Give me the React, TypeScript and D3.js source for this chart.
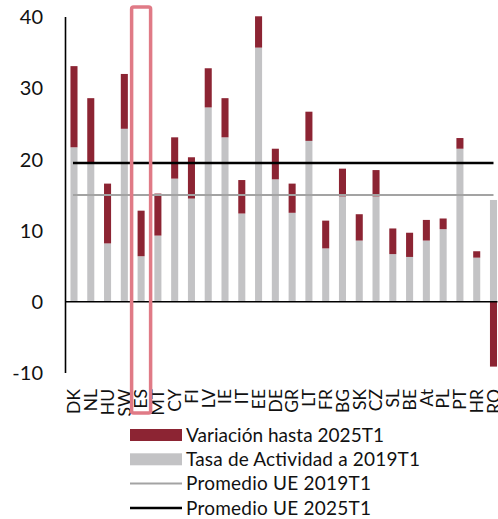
import React, { useEffect, useRef } from "react";
import * as d3 from "d3";

const countries = ["DK", "NL", "HU", "SW", "ES", "MT", "CY", "FI", "LV", "IE", "IT", "EE", "DE", "GR", "LT", "FR", "BG", "SK", "CZ", "SL", "BE", "At", "PL", "PT", "HR", "RO"];
const rate2019 = [21.7, 19.4, 8.2, 24.3, 6.4, 9.3, 17.3, 14.5, 27.3, 23.1, 12.4, 35.7, 17.2, 12.5, 22.6, 7.5, 14.8, 8.6, 14.8, 6.7, 6.3, 8.6, 10.2, 21.5, 6.2, 14.3];
const variation = [11.4, 9.2, 8.4, 7.7, 6.4, 5.9, 5.8, 5.8, 5.5, 5.5, 4.7, 4.4, 4.3, 4.1, 4.1, 3.9, 3.9, 3.7, 3.7, 3.6, 3.4, 2.9, 1.5, 1.5, 0.9, -9.1];
const avg2019 = 15.0;
const avg2025 = 19.5;
const yTicks = [-10, 0, 10, 20, 30, 40];
const legendItems = [
  { label: "Variación hasta 2025T1", kind: "red", len: 198 },
  { label: "Tasa de Actividad a 2019T1", kind: "gray", len: 234 },
  { label: "Promedio UE 2019T1", kind: "grayLine", len: 185 },
  { label: "Promedio UE 2025T1", kind: "blackLine", len: 185 },
];

const RED = "#8c2433";
const GRAY = "#c3c3c5";
const FONT = "Lato, 'Open Sans', sans-serif";

const Chart = () => {
  const svgRef = useRef<SVGSVGElement>(null);
  const width = 498;
  const height = 519;

  useEffect(() => {
    const svg = d3.select(svgRef.current);
    svg.selectAll("*").remove();

    const x = d3
      .scaleBand()
      .domain(countries)
      .range([65.6, 65.6 + 26 * 16.78])
      .paddingInner(0.58)
      .paddingOuter(0.29);

    const y = d3.scaleLinear().domain([-10, 40]).range([373, 17]);

    // gray bars: 2019 rate
    svg
      .append("g")
      .attr("fill", GRAY)
      .selectAll("rect")
      .data(countries)
      .join("rect")
      .attr("x", (d) => x(d)!)
      .attr("width", x.bandwidth())
      .attr("y", (d, i) => y(rate2019[i]))
      .attr("height", (d, i) => y(0) - y(rate2019[i]));

    // red bars: variation (stacked on top if positive, below zero if negative)
    svg
      .append("g")
      .attr("fill", RED)
      .selectAll("rect")
      .data(countries)
      .join("rect")
      .attr("x", (d) => x(d)!)
      .attr("width", x.bandwidth())
      .attr("y", (d, i) =>
        variation[i] >= 0 ? y(rate2019[i] + variation[i]) : y(0)
      )
      .attr("height", (d, i) => Math.abs(y(0) - y(variation[i])));

    const xStart = x(countries[0])! + x.bandwidth() / 2 - 1;
    const xEnd = x(countries[countries.length - 1])! + x.bandwidth() / 2;

    // zero line
    svg
      .append("line")
      .attr("x1", 65)
      .attr("x2", xEnd + 4)
      .attr("y1", y(0))
      .attr("y2", y(0))
      .attr("stroke", "#000")
      .attr("stroke-width", 1.6);

    // EU averages
    svg
      .append("line")
      .attr("x1", xStart)
      .attr("x2", xEnd)
      .attr("y1", y(avg2019))
      .attr("y2", y(avg2019))
      .attr("stroke", "#a3a3a3")
      .attr("stroke-width", 2);
    svg
      .append("line")
      .attr("x1", xStart)
      .attr("x2", xEnd)
      .attr("y1", y(avg2025))
      .attr("y2", y(avg2025))
      .attr("stroke", "#000")
      .attr("stroke-width", 2.5);

    // y axis
    svg
      .append("line")
      .attr("x1", 65.5)
      .attr("x2", 65.5)
      .attr("y1", y(40))
      .attr("y2", y(-10))
      .attr("stroke", "#000")
      .attr("stroke-width", 1.6);

    svg
      .append("g")
      .selectAll("text")
      .data(yTicks)
      .join("text")
      .attr("x", 43)
      .attr("y", (d) => y(d))
      .attr("dy", "0.36em")
      .attr("text-anchor", "end")
      .attr("font-family", FONT)
      .attr("font-size", 20)
      .attr("fill", "#111")
      .text((d) => d);

    // category labels
    svg
      .append("g")
      .selectAll("text")
      .data(countries)
      .join("text")
      .attr(
        "transform",
        (d) => `translate(${x(d)! + x.bandwidth() / 2},389) rotate(-90)`
      )
      .attr("dy", "0.36em")
      .attr("text-anchor", "end")
      .attr("font-family", FONT)
      .attr("font-size", 17.5)
      .attr("fill", "#111")
      .text((d) => d);

    // highlight around ES
    const es = x("ES")!;
    svg
      .append("rect")
      .attr("x", es + x.bandwidth() / 2 - 9.5)
      .attr("y", 7)
      .attr("width", 19)
      .attr("height", 406)
      .attr("rx", 2)
      .attr("fill", "none")
      .attr("stroke", "#e07a86")
      .attr("stroke-width", 3.5);

    // legend
    const lg = svg
      .append("g")
      .selectAll("g")
      .data(legendItems)
      .join("g")
      .attr("transform", (d, i) => `translate(130,${435 + i * 24.3})`);

    lg.filter((d) => d.kind === "red" || d.kind === "gray")
      .append("rect")
      .attr("x", 0)
      .attr("y", -6)
      .attr("width", 52)
      .attr("height", 12)
      .attr("fill", (d) => (d.kind === "red" ? RED : GRAY));

    lg.filter((d) => d.kind === "grayLine" || d.kind === "blackLine")
      .append("line")
      .attr("x1", 0)
      .attr("x2", 52)
      .attr("y1", 0)
      .attr("y2", 0)
      .attr("stroke", (d) => (d.kind === "grayLine" ? "#a3a3a3" : "#000"))
      .attr("stroke-width", (d) => (d.kind === "grayLine" ? 2 : 2.5));

    lg.append("text")
      .attr("x", 56)
      .attr("y", 0)
      .attr("dy", "0.36em")
      .attr("font-family", FONT)
      .attr("font-size", 19)
      .attr("textLength", (d) => d.len)
      .attr("lengthAdjust", "spacing")
      .attr("fill", "#111")
      .text((d) => d.label);
  }, []);

  return (
    <svg
      ref={svgRef}
      width={width}
      height={height}
      style={{ position: "absolute", left: 0, top: 0, background: "#fff" }}
    />
  );
};

export default function App() {
  return <Chart />;
}
